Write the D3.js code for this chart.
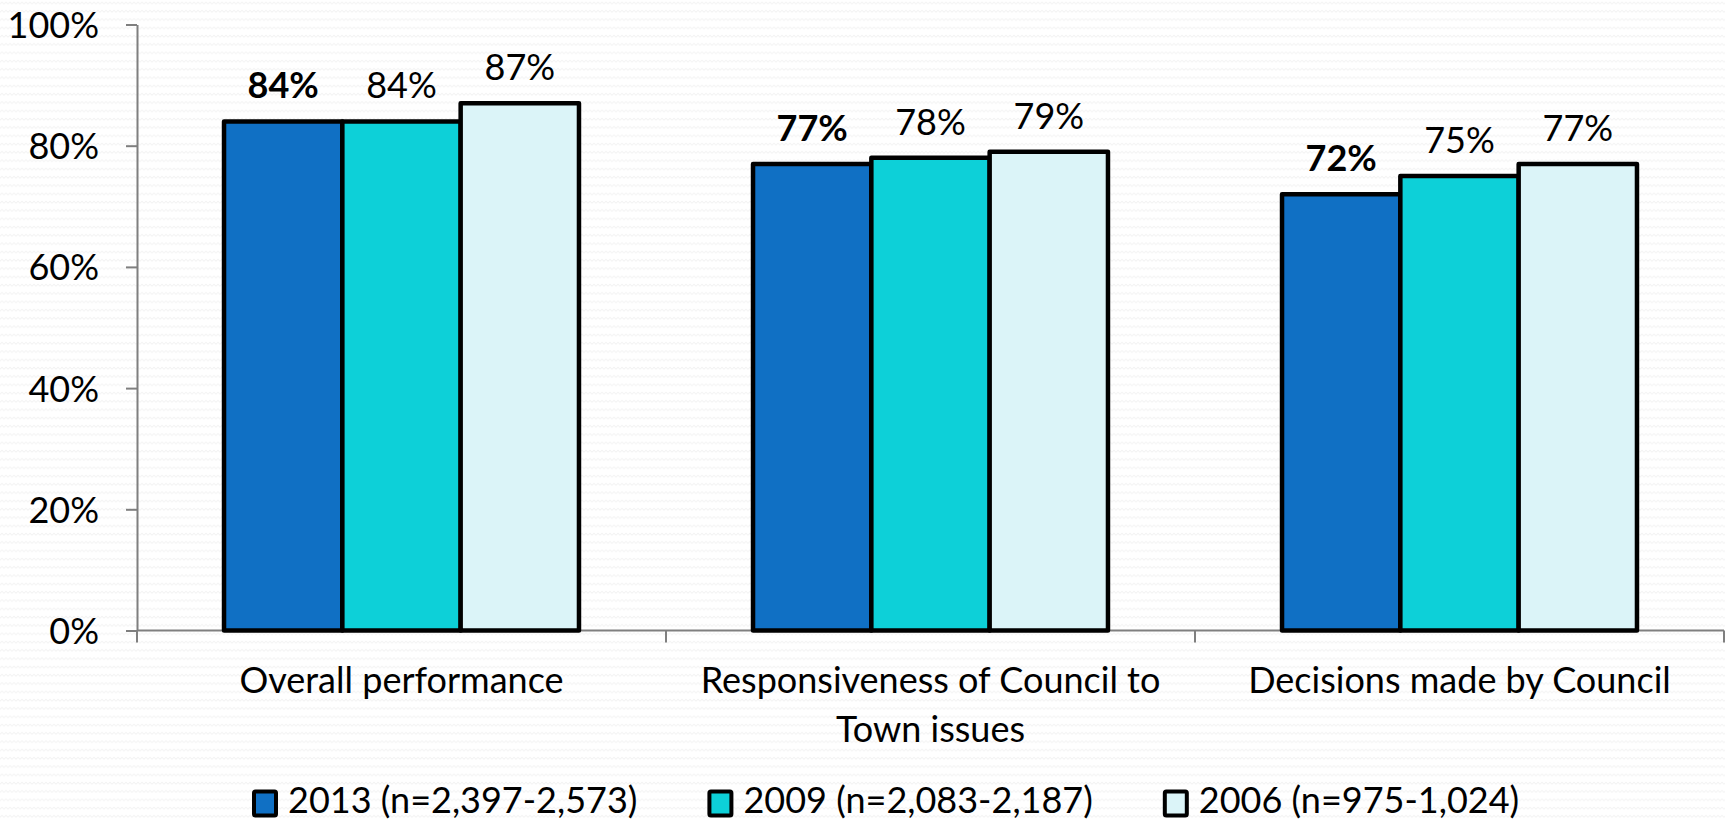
<!DOCTYPE html>
<html>
<head>
<meta charset="utf-8">
<script src="https://cdn.jsdelivr.net/npm/d3@7"></script>
<style>
  html, body { margin: 0; padding: 0; background: #ffffff; }
  svg { display: block; }
  text { font-family: Lato, "Open Sans", sans-serif; fill: #000; }
</style>
</head>
<body>
<svg id="chart" width="1725" height="820"></svg>
<script>
// Satisfaction ratings by survey year
const categories = [
  ["Overall performance"],
  ["Responsiveness of Council to", "Town issues"],
  ["Decisions made by Council"]
];
const seriesNames = ["2013 (n=2,397-2,573)", "2009 (n=2,083-2,187)", "2006 (n=975-1,024)"];
const values2013 = [0.84, 0.77, 0.72];
const values2009 = [0.84, 0.78, 0.75];
const values2006 = [0.87, 0.79, 0.77];
const seriesColors = ["#1070c4", "#0dd0d8", "#dbf4f8"];
const yTicks = [0, 0.2, 0.4, 0.6, 0.8, 1.0];

const seriesValues = [values2013, values2009, values2006];

const svg = d3.select("#chart");
const W = 1725, H = 820;
const FS = 36;

// faint wavy slide texture
const defs = svg.append("defs");
const pat = defs.append("pattern")
  .attr("id", "waves").attr("patternUnits", "userSpaceOnUse")
  .attr("width", 8).attr("height", 8.3);
pat.append("path")
  .attr("d", "M0,4 L2,2 L4,4 L6,2 L8,4")
  .attr("fill", "none").attr("stroke", "#f3f3f3").attr("stroke-width", 1);
svg.append("rect").attr("width", W).attr("height", H).attr("fill", "#ffffff");
svg.append("rect").attr("width", W).attr("height", H).attr("fill", "url(#waves)");

const plot = { left: 137, right: 1724, top: 24.5, bottom: 630.5 };

const y = d3.scaleLinear().domain([0, 1]).range([plot.bottom, plot.top]);
const x0 = d3.scaleBand().domain(d3.range(categories.length))
  .range([plot.left, plot.right]).padding(0);
const groupPad = x0.bandwidth() * 0.1645;
const x1 = d3.scaleBand().domain(d3.range(seriesNames.length))
  .range([groupPad, x0.bandwidth() - groupPad]).padding(0);

// y axis
const yAxis = d3.axisLeft(y).tickValues(yTicks)
  .tickFormat(d3.format(".0%")).tickSize(11).tickSizeOuter(0).tickPadding(27);
const gy = svg.append("g").attr("transform", `translate(${plot.left},0)`).call(yAxis);
gy.select(".domain").attr("stroke", "#7f7f7f").attr("stroke-width", 2);
gy.selectAll(".tick line").attr("stroke", "#7f7f7f").attr("stroke-width", 2);
gy.selectAll(".tick text").attr("font-size", FS).attr("font-family", "Lato, sans-serif")
  .attr("fill", "#000").attr("dy", "0.36em");

// x axis baseline with category separators
const xLine = svg.append("g");
xLine.append("line")
  .attr("x1", plot.left).attr("x2", plot.right)
  .attr("y1", y(0)).attr("y2", y(0))
  .attr("stroke", "#7f7f7f").attr("stroke-width", 2);
const sepX = d3.range(categories.length + 1).map(i =>
  i < categories.length ? x0(i) : x0(i - 1) + x0.bandwidth());
xLine.selectAll("line.sep").data(sepX).join("line").attr("class", "sep")
  .attr("x1", d => d).attr("x2", d => d)
  .attr("y1", y(0)).attr("y2", y(0) + 12)
  .attr("stroke", "#7f7f7f").attr("stroke-width", 2);

// bars
const groups = svg.append("g").selectAll("g").data(categories).join("g")
  .attr("transform", (d, i) => `translate(${x0(i)},0)`);

groups.each(function(cat, ci) {
  const g = d3.select(this);
  const data = seriesValues.map((vals, si) => ({ si, v: vals[ci] }));
  g.selectAll("rect").data(data).join("rect")
    .attr("x", d => x1(d.si))
    .attr("y", d => y(d.v))
    .attr("width", x1.bandwidth())
    .attr("height", d => y(0) - y(d.v))
    .attr("fill", d => seriesColors[d.si])
    .attr("stroke", "#000").attr("stroke-width", 4.5)
    .attr("stroke-linejoin", "round");
  g.selectAll("text.val").data(data).join("text").attr("class", "val")
    .attr("x", d => x1(d.si) + x1.bandwidth() / 2)
    .attr("y", d => y(d.v) - 23)
    .attr("text-anchor", "middle")
    .attr("font-size", FS)
    .attr("font-weight", d => d.si === 0 ? "bold" : "normal")
    .text(d => d3.format(".0%")(d.v));
  // category label
  const lab = g.append("text")
    .attr("text-anchor", "middle").attr("font-size", FS)
    .attr("x", x0.bandwidth() / 2).attr("y", 693);
  lab.selectAll("tspan").data(cat).join("tspan")
    .attr("x", x0.bandwidth() / 2)
    .attr("dy", (d, i) => i === 0 ? 0 : 49)
    .text(d => d);
});

// legend
const legend = svg.append("g");
let lx = 252;
seriesNames.forEach((name, i) => {
  const item = legend.append("g").attr("transform", `translate(${lx},0)`);
  item.append("rect")
    .attr("x", 2).attr("y", 791.5).attr("width", 22).attr("height", 24)
    .attr("fill", seriesColors[i]).attr("stroke", "#000").attr("stroke-width", 4)
    .attr("rx", 1.5);
  const t = item.append("text")
    .attr("x", 36).attr("y", 813).attr("font-size", FS).text(name);
  lx += 36 + t.node().getComputedTextLength() + 70;
});
</script>
</body>
</html>
